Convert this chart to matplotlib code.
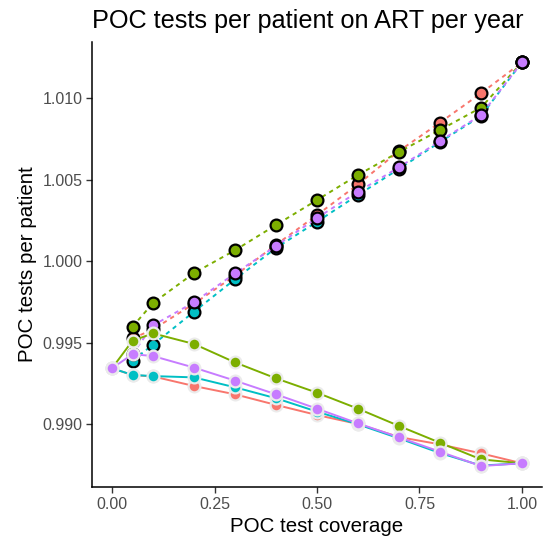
import matplotlib
matplotlib.use("Agg")
import matplotlib.pyplot as plt
from matplotlib.ticker import FormatStrFormatter

plt.rcParams['font.family'] = ['Liberation Sans', 'DejaVu Sans']

TITLE = "POC tests per patient on ART per year"
X_LABEL = "POC test coverage"
Y_LABEL = "POC tests per patient"

# colours in drawing order (last on top)
SERIES_COLORS = ['#F8766D', '#7CAE00', '#00BFC4', '#C77CFF']

# lower (solid) series
coverage_solid = [0.0, 0.05, 0.1, 0.2, 0.3, 0.4, 0.5, 0.6, 0.7, 0.8, 0.9, 1.0]
solid_red = [0.99342, 0.99300, 0.99292, 0.99233, 0.99182, 0.99117, 0.99055, 0.99000, 0.98920, 0.98875, 0.98820, 0.98759]
solid_green = [0.99342, 0.99511, 0.99556, 0.99491, 0.99378, 0.99280, 0.99192, 0.99094, 0.98988, 0.98885, 0.98783, 0.98759]
solid_teal = [0.99342, 0.99301, 0.99294, 0.99286, 0.99225, 0.99158, 0.99076, 0.98998, 0.98912, 0.98822, 0.98745, 0.98759]
solid_purple = [0.99342, 0.99428, 0.99417, 0.99346, 0.99266, 0.99182, 0.99094, 0.99004, 0.98918, 0.98830, 0.98742, 0.98759]

# upper (dashed) series
coverage_dashed = [0.05, 0.1, 0.2, 0.3, 0.4, 0.5, 0.6, 0.7, 0.8, 0.9, 1.0]
dashed_red = [0.99525, 0.99580, 0.99738, 0.99910, 1.00100, 1.00282, 1.00470, 1.00675, 1.00849, 1.01029, 1.01219]
dashed_green = [0.99597, 0.99742, 0.99926, 1.00066, 1.00221, 1.00374, 1.00528, 1.00669, 1.00804, 1.00941, 1.01219]
dashed_teal = [0.99389, 0.99487, 0.99689, 0.99888, 1.00080, 1.00241, 1.00405, 1.00565, 1.00730, 1.00890, 1.01219]
dashed_purple = [0.99430, 0.99605, 0.99747, 0.99924, 1.00092, 1.00264, 1.00425, 1.00575, 1.00736, 1.00896, 1.01219]

X_TICKS = [0.0, 0.25, 0.5, 0.75, 1.0]
Y_TICKS = [0.990, 0.995, 1.000, 1.005, 1.010]

dashed_series = [dashed_red, dashed_green, dashed_teal, dashed_purple]
solid_series = [solid_red, solid_green, solid_teal, solid_purple]

fig = plt.figure(figsize=(5.46, 5.39), dpi=100)
ax = fig.add_axes([92 / 546, 1 - 487 / 539, 450 / 546, 445 / 539])

for vals, col in zip(dashed_series, SERIES_COLORS):
    ax.plot(coverage_dashed, vals, color=col, lw=1.4, ls=(0, (2.2, 2.2)),
            marker='o', ms=8.5, mfc=col, mec='black', mew=1.6, zorder=2)

for vals, col in zip(solid_series, SERIES_COLORS):
    ax.plot(coverage_solid, vals, color=col, lw=1.4, ls='-',
            marker='o', ms=8.5, mfc=col, mec='#EBEBEB', mew=1.6, zorder=3)

ax.set_xlim(-0.0488, 1.0488)
ax.set_ylim(0.986135, 1.013436)
ax.set_xticks(X_TICKS)
ax.set_yticks(Y_TICKS)
ax.xaxis.set_major_formatter(FormatStrFormatter('%.2f'))
ax.yaxis.set_major_formatter(FormatStrFormatter('%.3f'))

for side in ['top', 'right']:
    ax.spines[side].set_visible(False)
for side in ['left', 'bottom']:
    ax.spines[side].set_linewidth(1.1)
ax.tick_params(length=4, width=1.0, color='#333333', labelcolor='#4D4D4D',
               labelsize=11.5, pad=3)

ax.set_xlabel(X_LABEL, fontsize=14.8, labelpad=4)
ax.set_ylabel(Y_LABEL, fontsize=14.8, labelpad=4)
ax.set_title(TITLE, loc='left', fontsize=18.2, pad=10)

fig.savefig("out.png", dpi=100)
